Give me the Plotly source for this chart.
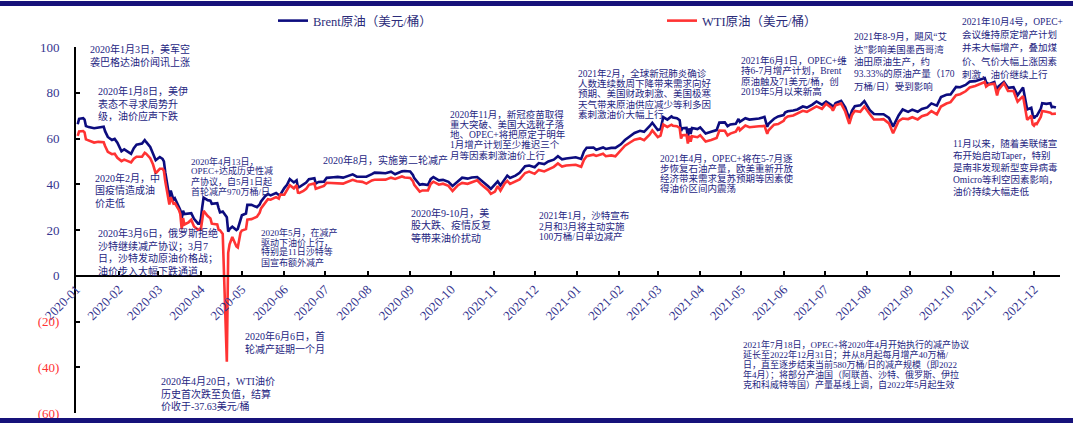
import plotly.graph_objects as go

# ---------------------------------------------------------------- data
trade_dates = [
    # 2020
    "2020-01-02", "2020-01-03", "2020-01-06", "2020-01-07", "2020-01-08", "2020-01-10", "2020-01-14",
    "2020-01-17", "2020-01-21", "2020-01-22", "2020-01-24", "2020-01-27", "2020-01-29", "2020-01-31",
    "2020-02-03", "2020-02-05", "2020-02-07", "2020-02-10", "2020-02-12", "2020-02-14", "2020-02-18",
    "2020-02-20", "2020-02-21", "2020-02-24", "2020-02-26", "2020-02-28",
    "2020-03-02", "2020-03-04", "2020-03-05", "2020-03-06", "2020-03-09", "2020-03-10", "2020-03-12",
    "2020-03-13", "2020-03-16", "2020-03-17", "2020-03-18", "2020-03-19", "2020-03-20", "2020-03-23",
    "2020-03-25", "2020-03-27", "2020-03-30", "2020-03-31",
    "2020-04-01", "2020-04-02", "2020-04-03", "2020-04-06", "2020-04-08", "2020-04-09", "2020-04-13",
    "2020-04-14", "2020-04-15", "2020-04-17", "2020-04-20", "2020-04-21", "2020-04-22", "2020-04-24",
    "2020-04-27", "2020-04-28", "2020-04-29", "2020-04-30",
    "2020-05-01", "2020-05-04", "2020-05-05", "2020-05-08", "2020-05-12", "2020-05-14", "2020-05-15",
    "2020-05-18", "2020-05-20", "2020-05-22", "2020-05-26", "2020-05-28", "2020-05-29",
    "2020-06-01", "2020-06-03", "2020-06-05", "2020-06-08", "2020-06-10", "2020-06-11", "2020-06-12",
    "2020-06-15", "2020-06-17", "2020-06-19", "2020-06-23", "2020-06-24", "2020-06-26", "2020-06-30",
    "2020-07-02", "2020-07-07", "2020-07-10", "2020-07-14", "2020-07-16", "2020-07-21", "2020-07-24",
    "2020-07-28", "2020-07-31",
    "2020-08-04", "2020-08-06", "2020-08-10", "2020-08-14", "2020-08-18", "2020-08-21", "2020-08-26",
    "2020-08-28",
    "2020-09-01", "2020-09-03", "2020-09-04", "2020-09-08", "2020-09-10", "2020-09-14", "2020-09-16",
    "2020-09-18", "2020-09-22", "2020-09-25", "2020-09-29",
    "2020-10-02", "2020-10-06", "2020-10-09", "2020-10-13", "2020-10-16", "2020-10-20", "2020-10-23",
    "2020-10-26", "2020-10-28", "2020-10-30",
    "2020-11-02", "2020-11-04", "2020-11-06", "2020-11-09", "2020-11-11", "2020-11-13", "2020-11-17",
    "2020-11-20", "2020-11-24", "2020-11-27",
    "2020-12-01", "2020-12-04", "2020-12-08", "2020-12-11", "2020-12-15", "2020-12-18", "2020-12-21",
    "2020-12-24", "2020-12-31",
    # 2021
    "2021-01-04", "2021-01-06", "2021-01-08", "2021-01-13", "2021-01-15", "2021-01-20", "2021-01-22",
    "2021-01-26", "2021-01-29",
    "2021-02-02", "2021-02-05", "2021-02-09", "2021-02-12", "2021-02-16", "2021-02-19", "2021-02-23",
    "2021-02-25",
    "2021-03-01", "2021-03-03", "2021-03-05", "2021-03-08", "2021-03-11", "2021-03-12", "2021-03-15",
    "2021-03-17", "2021-03-18", "2021-03-19", "2021-03-22", "2021-03-23", "2021-03-24", "2021-03-25",
    "2021-03-26", "2021-03-30",
    "2021-04-01", "2021-04-05", "2021-04-09", "2021-04-13", "2021-04-15", "2021-04-19", "2021-04-21",
    "2021-04-23", "2021-04-27", "2021-04-29", "2021-04-30",
    "2021-05-04", "2021-05-07", "2021-05-11", "2021-05-14", "2021-05-18", "2021-05-20", "2021-05-21",
    "2021-05-25", "2021-05-28",
    "2021-06-01", "2021-06-02", "2021-06-04", "2021-06-08", "2021-06-11", "2021-06-15", "2021-06-18",
    "2021-06-22", "2021-06-25", "2021-06-29",
    "2021-07-02", "2021-07-06", "2021-07-07", "2021-07-09", "2021-07-13", "2021-07-16", "2021-07-19",
    "2021-07-21", "2021-07-23", "2021-07-27", "2021-07-30",
    "2021-08-03", "2021-08-06", "2021-08-10", "2021-08-13", "2021-08-17", "2021-08-20", "2021-08-24",
    "2021-08-27", "2021-08-31",
    "2021-09-03", "2021-09-07", "2021-09-10", "2021-09-14", "2021-09-17", "2021-09-21", "2021-09-24",
    "2021-09-28",
    "2021-10-01", "2021-10-05", "2021-10-08", "2021-10-12", "2021-10-15", "2021-10-19", "2021-10-22",
    "2021-10-26", "2021-10-27", "2021-10-29",
    "2021-11-02", "2021-11-04", "2021-11-05", "2021-11-09", "2021-11-12", "2021-11-16", "2021-11-19",
    "2021-11-23", "2021-11-26", "2021-11-29", "2021-11-30",
    "2021-12-01", "2021-12-02", "2021-12-03", "2021-12-06", "2021-12-07", "2021-12-10", "2021-12-13",
    "2021-12-14", "2021-12-15", "2021-12-17",
]

# Brent, USD/bbl
brent_usd = [
    66.25, 68.60, 68.91, 68.27, 65.44, 64.98, 64.49, 64.85, 65.20, 63.21, 60.69, 59.32, 59.81, 58.16,
    54.45, 55.28, 54.47, 53.27, 55.79, 57.32, 57.75, 59.31, 58.50, 56.30, 53.43, 50.52,
    51.90, 51.13, 49.99, 45.27, 34.36, 37.22, 33.22, 33.85, 30.05, 28.73, 24.88, 28.47, 26.98, 27.03,
    27.39, 24.93, 22.76, 22.74,
    24.74, 29.94, 34.11, 33.05, 32.84, 31.48, 31.74, 29.60, 27.69, 28.08, 25.57, 19.33, 20.37, 21.44,
    19.99, 20.46, 22.54, 25.27,
    26.44, 27.20, 30.97, 30.97, 29.98, 31.13, 32.50, 34.81, 35.75, 35.13, 36.17, 35.29, 35.33,
    38.32, 39.79, 42.30, 40.80, 41.73, 38.55, 38.73, 39.72, 40.71, 42.19, 42.63, 40.31, 41.02, 41.15,
    42.80, 43.08, 43.24, 42.90, 43.37, 44.32, 43.34, 43.22, 43.30,
    44.43, 45.09, 44.99, 44.80, 45.46, 44.35, 45.64, 45.81,
    45.58, 44.07, 42.66, 39.78, 40.06, 39.61, 42.22, 43.15, 41.72, 41.92, 41.03,
    39.27, 41.29, 42.85, 42.45, 42.93, 43.16, 41.77, 40.46, 39.12, 37.94,
    39.71, 41.23, 39.45, 42.40, 43.80, 42.78, 43.75, 44.96, 47.86, 48.18,
    47.42, 49.25, 48.84, 49.97, 50.76, 52.26, 50.91, 51.29, 51.80,
    51.09, 54.30, 55.99, 56.06, 55.10, 56.08, 55.41, 55.91, 55.88,
    57.46, 59.34, 61.09, 62.43, 63.35, 62.91, 65.37, 66.88,
    63.69, 64.07, 69.36, 68.24, 69.63, 69.22, 68.88, 68.00, 63.28, 64.53, 64.62, 60.79, 64.41, 61.95,
    64.57, 64.14,
    64.86, 62.15, 62.95, 63.67, 66.94, 67.05, 65.32, 66.11, 66.42, 68.56, 67.25,
    68.88, 68.28, 68.55, 68.71, 69.46, 65.11, 66.44, 68.65, 69.63,
    70.25, 71.35, 71.89, 72.22, 72.69, 73.99, 73.51, 74.81, 76.18, 74.76,
    76.17, 74.53, 73.43, 75.55, 76.49, 73.59, 68.62, 72.23, 74.10, 74.48, 76.33,
    72.41, 70.70, 70.63, 70.59, 69.03, 65.18, 70.05, 72.70, 71.63,
    72.61, 71.69, 72.92, 73.60, 75.34, 74.36, 78.09, 79.09,
    79.28, 82.56, 82.39, 83.42, 84.86, 85.08, 85.53, 86.40, 84.58, 83.72,
    84.72, 80.54, 82.74, 84.78, 82.17, 82.43, 78.89, 82.31, 72.72, 73.44, 70.57,
    68.87, 69.67, 69.88, 73.08, 75.44, 75.15, 75.39, 73.70, 73.88, 73.52,
]

# WTI, USD/bbl
wti_usd = [
    61.18, 63.05, 63.27, 62.70, 59.61, 59.04, 58.23, 58.54, 58.34, 56.74, 54.19, 53.14, 53.33, 51.56,
    50.11, 50.75, 50.32, 49.57, 51.17, 52.05, 52.05, 53.78, 53.38, 51.43, 48.73, 44.76,
    46.75, 46.78, 45.90, 41.28, 31.13, 34.36, 31.50, 31.73, 28.70, 26.95, 20.37, 25.22, 22.43, 23.36,
    24.49, 21.51, 20.09, 20.48,
    20.31, 25.32, 28.34, 26.08, 25.09, 22.76, 22.41, 20.11, 19.87, 18.27, -37.63, 10.01, 13.78, 16.94,
    12.78, 12.34, 15.06, 18.84,
    19.78, 20.39, 24.56, 24.74, 25.78, 27.56, 29.43, 31.82, 33.49, 33.25, 34.35, 33.71, 35.49,
    35.44, 37.29, 39.55, 38.19, 39.60, 36.34, 36.26, 37.12, 37.96, 39.75, 40.37, 38.01, 38.49, 39.27,
    40.65, 40.62, 40.55, 40.29, 40.75, 41.92, 41.29, 41.04, 40.27,
    41.70, 41.95, 41.94, 42.01, 42.89, 42.34, 43.39, 42.97,
    42.76, 41.37, 39.77, 36.76, 37.30, 37.26, 40.16, 41.11, 39.80, 40.25, 39.29,
    37.05, 39.57, 40.60, 40.20, 40.88, 41.70, 39.85, 38.56, 37.39, 35.79,
    36.81, 39.15, 37.14, 40.29, 41.45, 40.13, 41.43, 42.15, 44.91, 45.53,
    44.55, 46.26, 45.60, 46.57, 47.62, 49.10, 47.74, 48.23, 48.52,
    47.62, 50.63, 52.24, 52.91, 52.36, 53.31, 52.27, 52.61, 52.20,
    54.76, 56.85, 58.36, 59.47, 60.05, 59.24, 61.67, 63.53,
    60.64, 61.28, 66.09, 65.05, 66.02, 65.61, 65.39, 64.60, 60.00, 61.42, 61.55, 57.76, 61.18, 58.56,
    60.97, 60.55,
    61.45, 58.65, 59.32, 60.18, 63.46, 63.38, 61.35, 62.14, 62.94, 65.01, 63.58,
    65.69, 64.90, 65.28, 65.37, 65.49, 62.05, 63.58, 66.07, 66.32,
    67.72, 68.83, 69.62, 70.05, 70.91, 72.12, 71.64, 73.06, 74.05, 72.98,
    75.16, 73.37, 72.20, 74.56, 75.25, 71.81, 66.42, 70.30, 72.07, 71.65, 73.95,
    70.56, 68.28, 68.29, 68.44, 66.59, 62.32, 67.54, 68.74, 68.50,
    69.29, 68.35, 69.72, 70.46, 71.97, 70.56, 73.98, 75.29,
    75.88, 78.93, 79.35, 80.64, 82.28, 82.96, 83.76, 84.65, 82.66, 83.57,
    83.91, 78.81, 81.27, 84.15, 80.79, 80.76, 76.10, 78.50, 68.15, 69.95, 66.18,
    65.57, 66.50, 66.26, 69.49, 72.05, 71.67, 71.29, 70.73, 70.87, 70.86,
]

assert len(trade_dates) == len(brent_usd) == len(wti_usd)

# axis ticks
month_ticks = [f"{y}-{m:02d}-01" for y in (2020, 2021) for m in range(1, 13)]
month_labels = [t[:7] for t in month_ticks]
y_ticks = [100, 80, 60, 40, 20, 0, -20, -40, -60]

# event notes drawn on the chart:
# (left px, first-line centre px, line step px, font size, lines)
event_notes = [
    (89, 49, 13, 10, ["2020年1月3日，美军空", "袭巴格达油价闻讯上涨"]),
    (97, 91, 12.5, 10, ["2020年1月8日，美伊", "表态不寻求局势升", "级，油价应声下跌"]),
    (94, 178, 12.5, 10, ["2020年2月，中", "国疫情造成油", "价走低"]),
    (97, 233, 12.6, 10, ["2020年3月6日，俄罗斯拒绝", "沙特继续减产协议；3月7",
                         "日，沙特发动原油价格战；", "油价步入大幅下跌通道"]),
    (190, 161, 10, 9, ["2020年4月13日，", "OPEC+达成历史性减", "产协议，自5月1日起",
                       "首轮减产970万桶/日"]),
    (160, 381, 12.5, 10, ["2020年4月20日，WTI油价", "历史首次跌至负值，结算", "价收于-37.63美元/桶"]),
    (244, 336, 12.8, 10, ["2020年6月6日，首", "轮减产延期一个月"]),
    (260, 232, 10, 9, ["2020年5月，在减产", "驱动下油价上行，", "特别是11日沙特等", "国宣布额外减产"]),
    (322, 160, 12, 10, ["2020年8月，实施第二轮减产"]),
    (410, 213, 12.5, 10, ["2020年9-10月，美", "股大跌、疫情反复", "等带来油价扰动"]),
    (449, 114, 10.3, 9.5, ["2020年11月，新冠疫苗取得", "重大突破、美国大选靴子落", "地、OPEC+将把原定于明年",
                           "1月增产计划至少推迟三个", "月等因素刺激油价上行"]),
    (538, 216, 10, 9.5, ["2021年1月，沙特宣布", "2月和3月将主动实施", "100万桶/日单边减产"]),
    (577, 73.5, 10.2, 9.5, ["2021年2月，全球新冠肺炎确诊", "人数连续数周下降带来需求向好",
                            "预期、美国财政刺激、美国极寒", "天气带来原油供应减少等利多因",
                            "素刺激油价大幅上行"]),
    (659, 158, 10.2, 9.5, ["2021年4月，OPEC+将在5-7月逐", "步恢复石油产量，欧美重新开放",
                           "经济带来需求复苏预期等因素使", "得油价区间内震荡"]),
    (740, 60.5, 10.3, 9.5, ["2021年6月1日，OPEC+维", "持6-7月增产计划，Brent", "原油触及71美元/桶，创",
                            "2019年5月以来新高"]),
    (853, 37, 12.3, 9.5, ["2021年8-9月，飓风“艾", "达”影响美国墨西哥湾", "油田原油生产，约",
                          "93.33%的原油产量（170", "万桶/日）受到影响"]),
    (961, 21.5, 13.2, 9.5, ["2021年10月4号，OPEC+", "会议维持原定增产计划", "并未大幅增产，叠加煤",
                            "价、气价大幅上涨因素", "刺激，油价继续上行"]),
    (952, 143, 12.2, 9.5, ["11月以来，随着美联储宣", "布开始启动Taper，特别", "是南非发现新型变异病毒",
                           "Omicro等利空因素影响，", "油价持续大幅走低"]),
    (742, 344, 10, 9, ["2021年7月18日，OPEC+将2020年4月开始执行的减产协议",
                       "延长至2022年12月31日；并从8月起每月增产40万桶/",
                       "日，直至逐步结束当前580万桶/日的减产规模（即2022",
                       "年4月）；将部分产油国（阿联酋、沙特、俄罗斯、伊拉",
                       "克和科威特等国）产量基线上调，自2022年5月起生效"]),
]

# ---------------------------------------------------------------- styling
W, H = 1073, 424
ML, MR, MT, MB = 76, 13, 47, 11
PW, PH = W - ML - MR, H - MT - MB

NAVY = "#0C0C7E"
RED = "#FF3333"
TEXT_NAVY = "#25257F"
LABEL_NAVY = "#35358F"
SERIF = "Liberation Serif, 'Noto Sans CJK SC', serif"
Y_MIN, Y_MAX = -60, 100


def to_paper(px, py):
    return (px - ML) / PW, 1 - (py - MT) / PH


fig = go.Figure()
fig.add_trace(go.Scatter(
    x=trade_dates, y=brent_usd, mode="lines", name="Brent原油（美元/桶）",
    line=dict(color=NAVY, width=2.6), legend="legend",
))
fig.add_trace(go.Scatter(
    x=trade_dates, y=wti_usd, mode="lines", name="WTI原油（美元/桶）",
    line=dict(color=RED, width=2.6), legend="legend2",
))

y_text = []
for v in y_ticks:
    if v < 0:
        y_text.append(f"<span style='color:{RED}'>({abs(v)})</span>")
    else:
        y_text.append(str(v))

zero_pos = (0 - Y_MIN) / (Y_MAX - Y_MIN)

annotations = []
for left, first_y, step, size, lines in event_notes:
    for i, line in enumerate(lines):
        ax, ay = to_paper(left, first_y + i * step)
        annotations.append(dict(
            xref="paper", yref="paper", x=ax, y=ay, xanchor="left", yanchor="middle",
            text=line, showarrow=False, borderpad=0,
            font=dict(family=SERIF, size=size, color=TEXT_NAVY),
        ))

# navy rules across the top and bottom of the page
x_left, _ = to_paper(0, 0)
x_right, _ = to_paper(W, 0)
_, band_top0 = to_paper(0, 1)
_, band_top1 = to_paper(0, 6)
_, band_bot0 = to_paper(0, 418)
_, band_bot1 = to_paper(0, 423)
shapes = [
    dict(type="rect", xref="paper", yref="paper", x0=x_left, x1=x_right, y0=band_top1, y1=band_top0,
         fillcolor="#16127A", line=dict(width=0), layer="above"),
    dict(type="rect", xref="paper", yref="paper", x0=x_left, x1=x_right, y0=band_bot1, y1=band_bot0,
         fillcolor="#16127A", line=dict(width=0), layer="above"),
]

lg1_x, lg_y = to_paper(273, 21)
lg2_x, _ = to_paper(662, 21)
legend_style = dict(orientation="h", xanchor="left", yanchor="middle", y=lg_y,
                    bgcolor="rgba(0,0,0,0)", borderwidth=0,
                    font=dict(family=SERIF, size=12.5, color="#2C2C7A"))

fig.update_layout(
    width=W, height=H,
    margin=dict(l=ML, r=MR, t=MT, b=MB, pad=0, autoexpand=False),
    paper_bgcolor="white", plot_bgcolor="white",
    showlegend=True,
    legend=dict(x=lg1_x, **legend_style),
    legend2=dict(x=lg2_x, **legend_style),
    annotations=annotations,
    shapes=shapes,
    xaxis=dict(
        type="date", range=["2019-12-31 18:00", "2021-12-20"],
        anchor="free", position=zero_pos,
        tickvals=month_ticks, ticktext=month_labels, tickangle=-45,
        ticks="inside", ticklen=4, tickwidth=1.5, tickcolor="black",
        showline=True, linecolor="black", linewidth=2,
        showgrid=False, zeroline=False, automargin=False,
        tickfont=dict(family="Liberation Serif", size=13, color=LABEL_NAVY),
    ),
    yaxis=dict(
        range=[Y_MIN, Y_MAX], tickvals=y_ticks, ticktext=y_text,
        ticks="inside", ticklen=4, tickwidth=1.5, tickcolor="black",
        showline=True, linecolor="black", linewidth=2,
        showgrid=False, zeroline=False, ticklabelstandoff=12, automargin=False,
        tickfont=dict(family="Liberation Serif", size=13, color=LABEL_NAVY),
    ),
)

fig.write_html("out.html")
